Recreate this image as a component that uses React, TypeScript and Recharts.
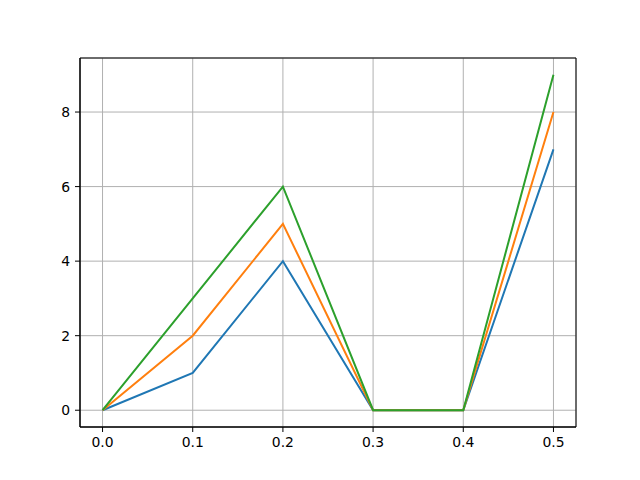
import React from 'react';
import {
  LineChart,
  Line,
  XAxis,
  YAxis,
  CartesianGrid,
  ReferenceArea,
} from 'recharts';

const xValues = [0, 0.1, 0.2, 0.3, 0.4, 0.5];
const blueSeries = [0, 1, 4, 0, 0, 7];
const orangeSeries = [0, 2, 5, 0, 0, 8];
const greenSeries = [0, 3, 6, 0, 0, 9];
const xTicks = [0, 0.1, 0.2, 0.3, 0.4, 0.5];
const yTicks = [0, 2, 4, 6, 8];
const xDomain: [number, number] = [-0.025, 0.525];
const yDomain: [number, number] = [-0.45, 9.45];

const data = xValues.map((x, i) => ({
  x,
  a: blueSeries[i],
  b: orangeSeries[i],
  c: greenSeries[i],
}));

const tickStyle = { fontSize: 13.9, fill: '#000', fontFamily: 'DejaVu Sans' };

export default function App() {
  return (
    <div style={{ position: 'absolute', left: 0, top: 0, width: 640, height: 480, background: '#fff' }}>
      <LineChart
        width={640}
        height={480}
        data={data}
        margin={{ top: 58, right: 64, bottom: 23, left: 20 }}
      >
        <CartesianGrid stroke="#b0b0b0" strokeWidth={1} />
        <XAxis
          dataKey="x"
          type="number"
          domain={xDomain}
          ticks={xTicks}
          tickFormatter={(v: number) => v.toFixed(1)}
          allowDataOverflow
          height={30}
          stroke="#000"
          tickSize={5}
          tickMargin={5}
          tick={tickStyle}
        />
        <YAxis
          type="number"
          domain={yDomain}
          ticks={yTicks}
          allowDataOverflow
          width={60}
          stroke="#000"
          tickSize={5}
          tickMargin={5}
          tick={tickStyle}
        />
        <Line type="linear" dataKey="a" stroke="#1f77b4" strokeWidth={2} dot={false} isAnimationActive={false} />
        <Line type="linear" dataKey="b" stroke="#ff7f0e" strokeWidth={2} dot={false} isAnimationActive={false} />
        <Line type="linear" dataKey="c" stroke="#2ca02c" strokeWidth={2} dot={false} isAnimationActive={false} />
        <ReferenceArea
          x1={xDomain[0]}
          x2={xDomain[1]}
          y1={yDomain[0]}
          y2={yDomain[1]}
          fill="none"
          stroke="#000"
          strokeWidth={1}
          ifOverflow="visible"
        />
      </LineChart>
    </div>
  );
}
